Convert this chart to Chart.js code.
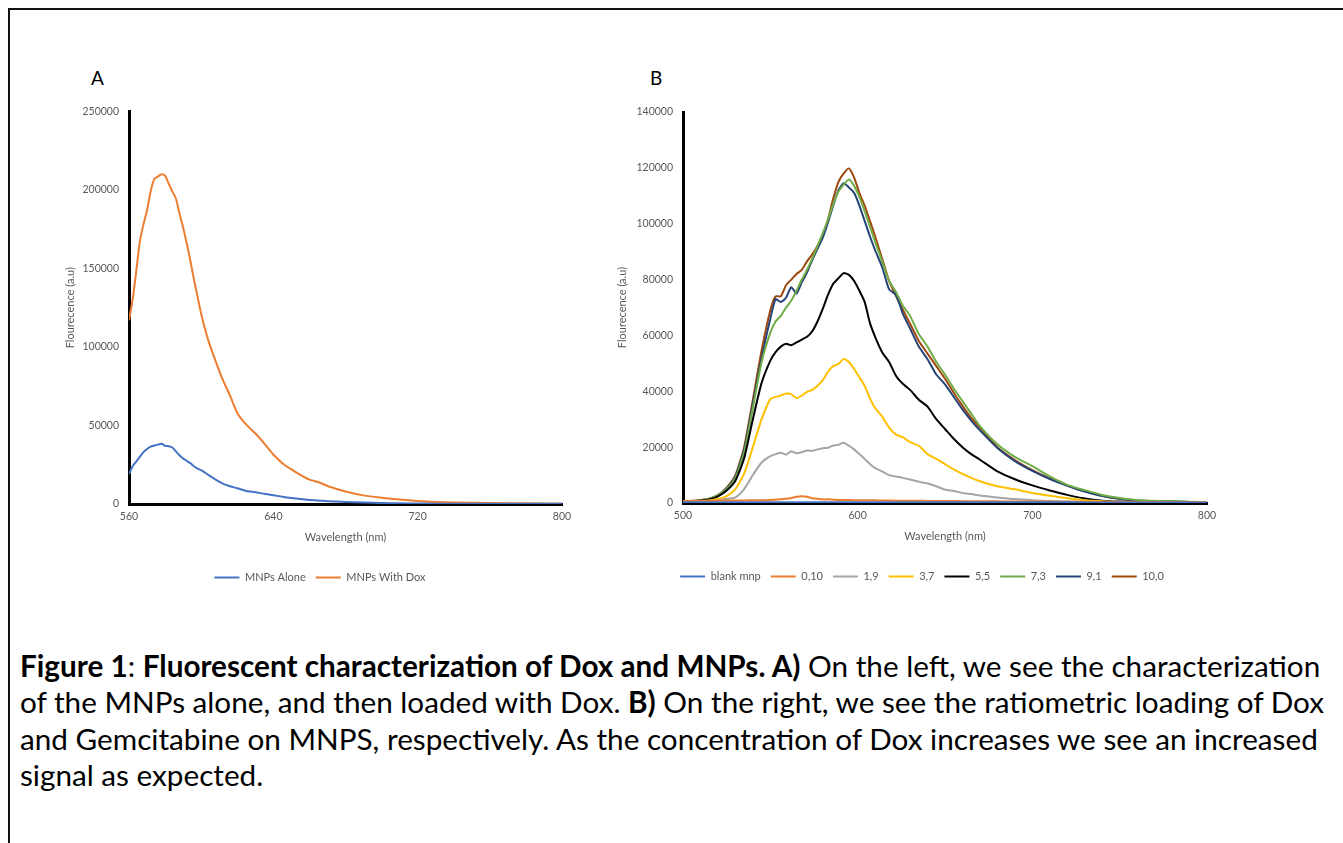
<!DOCTYPE html>
<html>
<head>
<meta charset="utf-8">
<script src="https://cdn.jsdelivr.net/npm/chart.js@4.4.1/dist/chart.umd.min.js"></script>
<style>
  html, body { margin: 0; padding: 0; background: #fff; }
  body { width: 1343px; height: 843px; position: relative; overflow: hidden; font-family: Lato, "Liberation Sans", Arial, sans-serif; }
  .frame { position: absolute; left: 8px; top: 8px; width: 1400px; height: 900px; border-top: 2px solid #111; border-left: 2px solid #111; }
  .panel { position: absolute; font-size: 19px; color: #000; }
  .box { position: absolute; }
  .caption { position: absolute; left: 20px; top: 648px; font-size: 29.7px; line-height: 36.3px; color: #000; white-space: nowrap; }
</style>
</head>
<body>
<div class="frame"></div>
<div class="panel" style="left:91px; top:66px;">A</div>
<div class="panel" style="left:650px; top:66px;">B</div>
<div class="box" style="left:50px; top:95px; width:540px; height:505px;"><canvas id="chartA"></canvas></div>
<div class="box" style="left:605px; top:95px; width:630px; height:505px;"><canvas id="chartB"></canvas></div>
<div class="caption">
<b>Figure 1</b>: <b>Fluorescent characterization of Dox and MNPs. A)</b> On the left, we see the characterization<br>
of the MNPs alone, and then loaded with Dox. <b>B)</b> On the right, we see the ratiometric loading of Dox<br>
and Gemcitabine on MNPS, respectively. As the concentration of Dox increases we see an increased<br>
signal as expected.
</div>
<script>
// ---- panel A data ----
const wlA = [560, 562, 564, 566, 568, 570, 572, 574, 576, 578, 580, 582, 584, 586, 588, 590, 592, 594, 596, 598,
  600, 604, 608, 612, 616, 620, 625, 630, 635, 640, 645, 650, 655, 660, 665, 670, 680, 690, 700, 710,
  720, 730, 740, 760, 780, 800];
const mnpsAlone = [19000, 24000, 27000, 30000, 33000, 35000, 36500, 37200, 37800, 38300, 37000, 36800, 36000, 33500, 31000, 29000, 27500, 26000, 24000, 22500,
  21500, 18500, 15500, 13000, 11300, 10000, 8300, 7500, 6500, 5600, 4600, 3800, 3200, 2600, 2300, 1800, 1300, 900, 600, 400,
  300, 200, 200, 100, 100, 100];
const mnpsDox = [117000, 130000, 148000, 167000, 178000, 187000, 199000, 207000, 208500, 210000, 209000, 204000, 199000, 194500, 185000, 176000, 166000, 155000, 143000, 132000,
  121000, 104000, 91000, 79000, 69000, 58000, 50500, 45000, 38500, 31500, 26000, 22000, 18500, 15500, 14000, 11500, 8000, 5500, 4000, 2800,
  1900, 1300, 1000, 600, 400, 300];

// ---- panel B data ----
const wlB = [500, 505, 510, 515, 520, 525, 530, 535, 540, 545, 550, 553, 556, 559, 562, 565, 568, 571, 574, 577,
  580, 583, 586, 589, 592, 595, 598, 601, 604, 607, 610, 614, 618, 622, 626, 630, 635, 640, 645, 650,
  655, 660, 665, 670, 680, 690, 700, 710, 720, 730, 740, 750, 760, 780, 800];
const blankMnp = [300, 300, 300, 300, 300, 300, 300, 300, 300, 300, 300, 300, 300, 300, 300, 300, 300, 300, 300, 300,
  300, 300, 300, 300, 300, 300, 300, 300, 300, 300, 300, 300, 300, 300, 300, 300, 300, 300, 300, 300,
  300, 300, 300, 300, 300, 300, 300, 300, 300, 200, 200, 200, 200, 200, 200];
const r0_10 = [700, 800, 800, 800, 900, 900, 900, 900, 1000, 1000, 1100, 1200, 1300, 1500, 1800, 2200, 2400, 2200, 1700, 1500,
  1300, 1300, 1200, 1100, 1100, 1100, 1000, 1000, 1000, 950, 950, 900, 900, 850, 850, 800, 800, 750, 750, 700,
  700, 650, 650, 600, 600, 550, 500, 500, 450, 450, 400, 400, 350, 300, 300];
const r1_9 = [200, 300, 400, 600, 900, 1500, 2000, 5000, 10000, 14500, 16800, 17500, 18000, 17300, 18500, 17800, 18200, 18800, 18700, 19200,
  19600, 19800, 20600, 20800, 21600, 20500, 19200, 17500, 15800, 14000, 12500, 11300, 10000, 9500, 9000, 8400, 7600, 7000, 6000, 4800,
  4300, 3600, 3200, 2700, 2000, 1400, 1000, 700, 500, 400, 300, 200, 200, 100, 100];
const r3_7 = [300, 400, 600, 900, 1500, 2500, 5000, 10500, 20000, 30000, 37200, 38000, 38500, 39200, 39000, 37500, 38500, 39800, 40500, 42000,
  44000, 47000, 49000, 49800, 51600, 50500, 48000, 45000, 42000, 37500, 34000, 31000, 27000, 24500, 23500, 21800, 20500, 17500, 15800, 13900,
  12000, 10400, 9000, 7800, 6000, 4900, 3600, 2600, 1700, 1000, 600, 400, 300, 200, 200];
const r5_5 = [400, 600, 900, 1300, 2400, 4500, 8000, 16000, 30000, 43000, 51000, 54000, 56000, 57000, 56500, 57500, 58500, 59500, 61500, 65000,
  69500, 74500, 78500, 80500, 82300, 81700, 79500, 76000, 72000, 64500, 59500, 54000, 50500, 45500, 42600, 40500, 37000, 34500, 30000, 26500,
  23000, 20000, 17500, 15500, 11300, 8500, 6300, 4500, 2900, 1600, 800, 500, 400, 300, 200];
const r7_3 = [500, 700, 1000, 1500, 2700, 5000, 9000, 18000, 34000, 50500, 61000, 65000, 67000, 70000, 72500, 76000, 80000, 83500, 87500, 92000,
  96500, 101500, 107000, 111500, 114000, 115800, 113500, 109500, 104500, 99000, 93500, 86500, 79500, 75500, 70500, 67000, 60500, 56000, 50500, 46000,
  41000, 36500, 32000, 27500, 21000, 16500, 13200, 9500, 6500, 4600, 2900, 1800, 1100, 600, 300];
const r9_1 = [500, 700, 1000, 1500, 2700, 5200, 9500, 19000, 35500, 52000, 66000, 73000, 72000, 73500, 77300, 75000, 79000, 82500, 87000, 91000,
  95000, 100500, 106500, 112000, 114500, 113000, 111000, 106500, 101000, 95500, 90500, 84500, 76500, 74500, 67500, 62500, 56000, 51500, 46000, 42500,
  38000, 33500, 29500, 26000, 19700, 15000, 11500, 8600, 6200, 4100, 2500, 1500, 900, 500, 300];
const r10_0 = [500, 700, 1000, 1500, 2800, 5500, 10000, 20000, 37000, 54600, 69000, 74000, 74000, 78000, 80000, 82000, 83500, 86500, 89000, 92000,
  96000, 101500, 109000, 115000, 118000, 119800, 116500, 111000, 106500, 101000, 95500, 87500, 79500, 74000, 69000, 64200, 58000, 53500, 49000, 44500,
  39500, 34800, 30500, 27000, 20000, 15400, 11800, 8800, 6300, 4200, 2600, 1500, 900, 500, 300];

const tickA = [560, 640, 720, 800];
const tickB = [500, 600, 700, 800];

const gray = '#595959';
const font = 'Lato, Liberation Sans, Arial, sans-serif';

function pts(xs, ys) {
  return xs.map((x, i) => ({ x: x, y: ys[i] }));
}

function line(label, xs, ys, color) {
  return {
    label: label,
    data: pts(xs, ys),
    borderColor: color,
    backgroundColor: color,
    borderWidth: 2,
    pointRadius: 0,
    tension: 0.2,
    fill: false
  };
}

// nudge the legend sideways, Excel centres it a bit to the right
const legendShift = {
  id: 'legendShift',
  afterLayout(chart, args, opts) {
    const lg = chart.legend;
    if (lg && opts.dx) { lg.left += opts.dx; lg.right += opts.dx; }
  }
};

function options(cfg) {
  return {
    responsive: true,
    maintainAspectRatio: false,
    animation: false,
    layout: { padding: { top: cfg.padTop, right: 28, bottom: cfg.padBottom, left: 0 } },
    plugins: {
      tooltip: { enabled: false },
      legendShift: { dx: cfg.legendDx },
      legend: {
        position: 'bottom',
        labels: {
          color: gray,
          font: { family: font, size: 11 },
          usePointStyle: true,
          pointStyle: 'line',
          pointStyleWidth: 25,
          boxHeight: 10,
          padding: 10
        }
      }
    },
    scales: {
      x: {
        type: 'linear',
        min: cfg.xMin,
        max: 800,
        afterBuildTicks: s => { s.ticks = cfg.xTicks.map(v => ({ value: v })); },
        afterFit: s => { s.height = 58; },
        grid: { display: false, drawTicks: false },
        border: { display: true, color: '#000', width: 3 },
        ticks: { color: gray, font: { family: font, size: 10.5 }, padding: 6, maxRotation: 0, callback: v => String(v) },
        title: { display: true, text: 'Wavelength (nm)', color: gray, font: { family: font, size: 11 }, padding: { top: 4, bottom: 18 } }
      },
      y: {
        min: 0,
        max: cfg.yMax,
        ticks: { stepSize: cfg.yStep, color: gray, font: { family: font, size: 10.5 }, padding: 10, callback: v => String(v) },
        afterFit: s => { s.width = cfg.yWidth; },
        grid: { display: false, drawTicks: false },
        border: { display: true, color: '#000', width: 3 },
        title: { display: true, text: 'Flourecence (a.u)', color: gray, font: { family: font, size: 11 }, padding: { top: cfg.yTitlePad, bottom: 4 } }
      }
    }
  };
}

new Chart(document.getElementById('chartA'), {
  type: 'line',
  data: {
    datasets: [
      line('MNPs Alone', wlA, mnpsAlone, '#4472C4'),
      line('MNPs With Dox', wlA, mnpsDox, '#ED7D31')
    ]
  },
  options: options({ xMin: 560, xTicks: tickA, yMax: 250000, yStep: 50000, yWidth: 79, yTitlePad: 14, padTop: 15, padBottom: 7, legendDx: 14 }),
  plugins: [legendShift]
});

new Chart(document.getElementById('chartB'), {
  type: 'line',
  data: {
    datasets: [
      line('blank mnp', wlB, blankMnp, '#4472C4'),
      line('0,10', wlB, r0_10, '#ED7D31'),
      line('1,9', wlB, r1_9, '#A5A5A5'),
      line('3,7', wlB, r3_7, '#FFC000'),
      line('5,5', wlB, r5_5, '#000000'),
      line('7,3', wlB, r7_3, '#70AD47'),
      line('9,1', wlB, r9_1, '#264478'),
      line('10,0', wlB, r10_0, '#9E480E')
    ]
  },
  options: options({ xMin: 500, xTicks: tickB, yMax: 140000, yStep: 20000, yWidth: 78, yTitlePad: 11, padTop: 17, padBottom: 8, legendDx: 16 }),
  plugins: [legendShift]
});
</script>
</body>
</html>
